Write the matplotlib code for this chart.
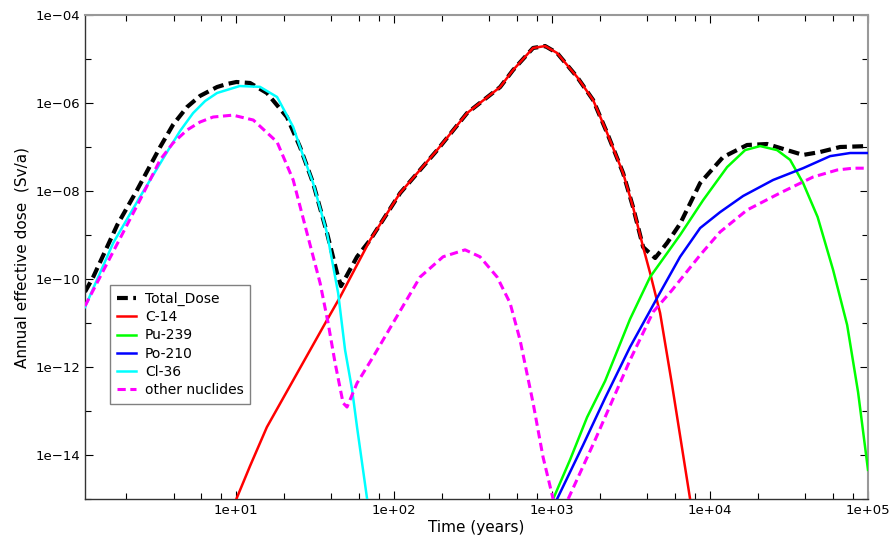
import numpy as np
import matplotlib
matplotlib.use('Agg')
import matplotlib.pyplot as plt
from matplotlib.ticker import FixedLocator, LogLocator, FuncFormatter, NullFormatter

# --- data (time in years, dose in Sv/a) ---
total_t = [1.1, 1.24, 1.76, 2.35, 3.29, 3.97, 4.87, 5.89, 7.55, 8.7, 10.0, 12.2, 15.6, 20.9, 25.3,
           30.6, 37.5, 43.4, 46.0, 58.1, 70.3, 109, 187, 289, 468, 565, 757, 902, 1074, 1438,
           1816, 2228, 2812, 3251, 3767, 4487, 5343, 6457, 8650, 12080, 17140, 22960, 27740,
           38810, 49750, 66530, 100000]
total_d = [5.1e-11, 1.11e-10, 1.69e-9, 1.05e-8, 1.0e-7, 3.2e-7, 8.1e-7, 1.45e-6, 2.31e-6, 2.7e-6,
           3.0e-6, 2.85e-6, 1.69e-6, 4.8e-7, 1.0e-7, 1.52e-8, 1.11e-9, 1.37e-10, 6.9e-11, 3.2e-10,
           7.7e-10, 9.0e-9, 8.5e-8, 5.9e-7, 2.3e-6, 5.6e-6, 1.78e-5, 1.97e-5, 1.37e-5, 3.9e-6,
           1.17e-6, 2.08e-7, 2.56e-8, 4.3e-9, 5.3e-10, 3.0e-10, 6.6e-10, 1.8e-9, 1.52e-8, 5.9e-8,
           1.11e-7, 1.17e-7, 9.5e-8, 6.6e-8, 7.7e-8, 1.0e-7, 1.05e-7]

c14_t = [10.0, 12.2, 15.6, 23.5, 37.5, 45.4, 70.3, 108.8, 186.6, 289, 468, 565, 757, 902, 1074,
         1438, 1816, 2228, 2812, 3251, 3767, 4169, 4823, 5745, 7470]
c14_d = [1e-15, 5.6e-15, 4.3e-14, 5.9e-13, 1.17e-11, 3.9e-11, 7.7e-10, 9.0e-9, 8.5e-8, 5.9e-7,
         2.3e-6, 5.6e-6, 1.78e-5, 1.97e-5, 1.37e-5, 3.9e-6, 1.17e-6, 2.08e-7, 2.56e-8, 4.3e-9,
         5.3e-10, 1.37e-10, 1.69e-11, 3.9e-13, 1e-15]

pu_t = [1014, 1298, 1663, 2163, 3113, 4169, 6457, 9036, 12820, 16670, 20740, 26550, 32120,
        38810, 47960, 60140, 73790, 86500, 100000]
pu_d = [1e-15, 7.8e-15, 7.2e-14, 4.8e-13, 1.23e-11, 1.11e-10, 1.0e-9, 6.2e-9, 3.5e-8, 8.5e-8,
        1.05e-7, 8.5e-8, 5.1e-8, 1.52e-8, 2.57e-9, 1.6e-10, 9.0e-12, 2.7e-13, 4.6e-15]

po_t = [1074, 1570, 2163, 3113, 4615, 6457, 8650, 11560, 16180, 25060, 38810, 57540, 77090, 100000]
po_d = [1e-15, 1.69e-14, 1.97e-13, 2.85e-12, 3.7e-11, 3.2e-10, 1.44e-9, 3.3e-9, 7.7e-9, 1.78e-8,
        3.3e-8, 6.2e-8, 7.3e-8, 7.3e-8]

cl_t = [1.1, 1.66, 2.45, 3.64, 4.40, 5.32, 6.34, 7.55, 10.5, 14.1, 18.1, 22.9, 25.3, 30.6, 37.5,
        44.1, 48.8, 54.1, 58.1, 67.3]
cl_d = [2.3e-11, 6.6e-10, 7.3e-9, 7.7e-8, 2.31e-7, 5.9e-7, 1.11e-6, 1.69e-6, 2.43e-6, 2.33e-6,
        1.37e-6, 2.85e-7, 1.0e-7, 1.52e-8, 1.11e-9, 4.8e-11, 2.43e-12, 3.0e-13, 4.3e-14, 1e-15]

other_t = [1.1, 2.45, 3.29, 3.97, 4.87, 5.89, 7.12, 9.5, 12.8, 18.1, 22.9, 28.0, 33.9, 38.1, 42.2,
           47.4, 50.2, 58.1, 73.4, 98.2, 145.7, 203.7, 280.7, 349, 448, 541, 626, 757, 875, 1014,
           1092, 1262, 1870, 3113, 4355, 5745, 8650, 11560, 17140, 27740, 44870, 63680, 80500,
           100000]
other_d = [2.43e-11, 6.2e-9, 5.1e-8, 1.23e-7, 2.43e-7, 3.7e-7, 4.8e-7, 5.3e-7, 4.1e-7, 1.3e-7,
           1.78e-8, 1.11e-9, 8.1e-11, 1.0e-11, 1.23e-12, 1.52e-13, 1.23e-13, 4.3e-13, 1.69e-12,
           1.0e-11, 1.11e-10, 3.2e-10, 4.6e-10, 3.2e-10, 1.11e-10, 2.85e-11, 4.1e-12, 1.52e-13,
           9.0e-15, 1e-15, 3.3e-16, 1e-15, 2.2e-14, 1.44e-12, 1.78e-11, 5.6e-11, 3.5e-10, 1.17e-9,
           3.7e-9, 9.0e-9, 2.08e-8, 3.0e-8, 3.3e-8, 3.3e-8]

yticks = [1e-14, 1e-12, 1e-10, 1e-8, 1e-6, 1e-4]
yminor = [1e-15, 1e-13, 1e-11, 1e-9, 1e-7, 1e-5]


def sci(v, _):
    return f'{v:.0e}'.replace('-', '\u2212')


fig = plt.figure(figsize=(8.94, 5.51), dpi=100)
ax = fig.add_axes([85 / 894, 52 / 551, 783 / 894, 484 / 551])

ax.plot(total_t, total_d, color='black', lw=3.0, ls=(0, (2.6, 1.3)), label='Total_Dose', zorder=2)
ax.plot(c14_t, c14_d, color='#ff0000', lw=1.8, label='C-14', zorder=3)
ax.plot(pu_t, pu_d, color='#00ff00', lw=1.8, label='Pu-239', zorder=3)
ax.plot(po_t, po_d, color='#0000ff', lw=1.8, label='Po-210', zorder=3)
ax.plot(cl_t, cl_d, color='#00ffff', lw=1.8, label='Cl-36', zorder=3)
ax.plot(other_t, other_d, color='#ff00ff', lw=2.2, ls=(0, (2.7, 1.5)), label='other nuclides', zorder=3)

ax.set_xscale('log')
ax.set_yscale('log')
ax.set_xlim(1.1, 1e5)
ax.set_ylim(1e-15, 1e-4)

ax.xaxis.set_major_locator(LogLocator(base=10, numticks=10))
ax.xaxis.set_minor_locator(LogLocator(base=10, subs=(2, 4, 6, 8), numticks=10))
ax.xaxis.set_major_formatter(FuncFormatter(sci))
ax.xaxis.set_minor_formatter(NullFormatter())
ax.yaxis.set_major_locator(FixedLocator(yticks))
ax.yaxis.set_minor_locator(FixedLocator(yminor))
ax.yaxis.set_major_formatter(FuncFormatter(sci))
ax.yaxis.set_minor_formatter(NullFormatter())

ax.tick_params(which='both', direction='in', top=True, right=True, labelsize=9.5, width=0.8)
ax.tick_params(which='major', length=6)
ax.tick_params(which='minor', length=4)

for side in ('left', 'bottom'):
    ax.spines[side].set_color('#333333')
    ax.spines[side].set_linewidth(1.0)
for side in ('top', 'right'):
    ax.spines[side].set_color('#999999')
    ax.spines[side].set_linewidth(1.5)

ax.set_xlabel('Time (years)', fontsize=11, labelpad=2)
ax.set_ylabel('Annual effective dose  (Sv/a)', fontsize=11, labelpad=4)

leg = ax.legend(loc='upper left', bbox_to_anchor=(0.032, 0.442), fontsize=10, frameon=True,
                fancybox=False, edgecolor='#808080', framealpha=1, handlelength=1.4,
                handletextpad=0.6, labelspacing=0.3, borderpad=0.5, borderaxespad=0)
leg.get_frame().set_linewidth(1.0)

fig.savefig('out.png', dpi=100)
